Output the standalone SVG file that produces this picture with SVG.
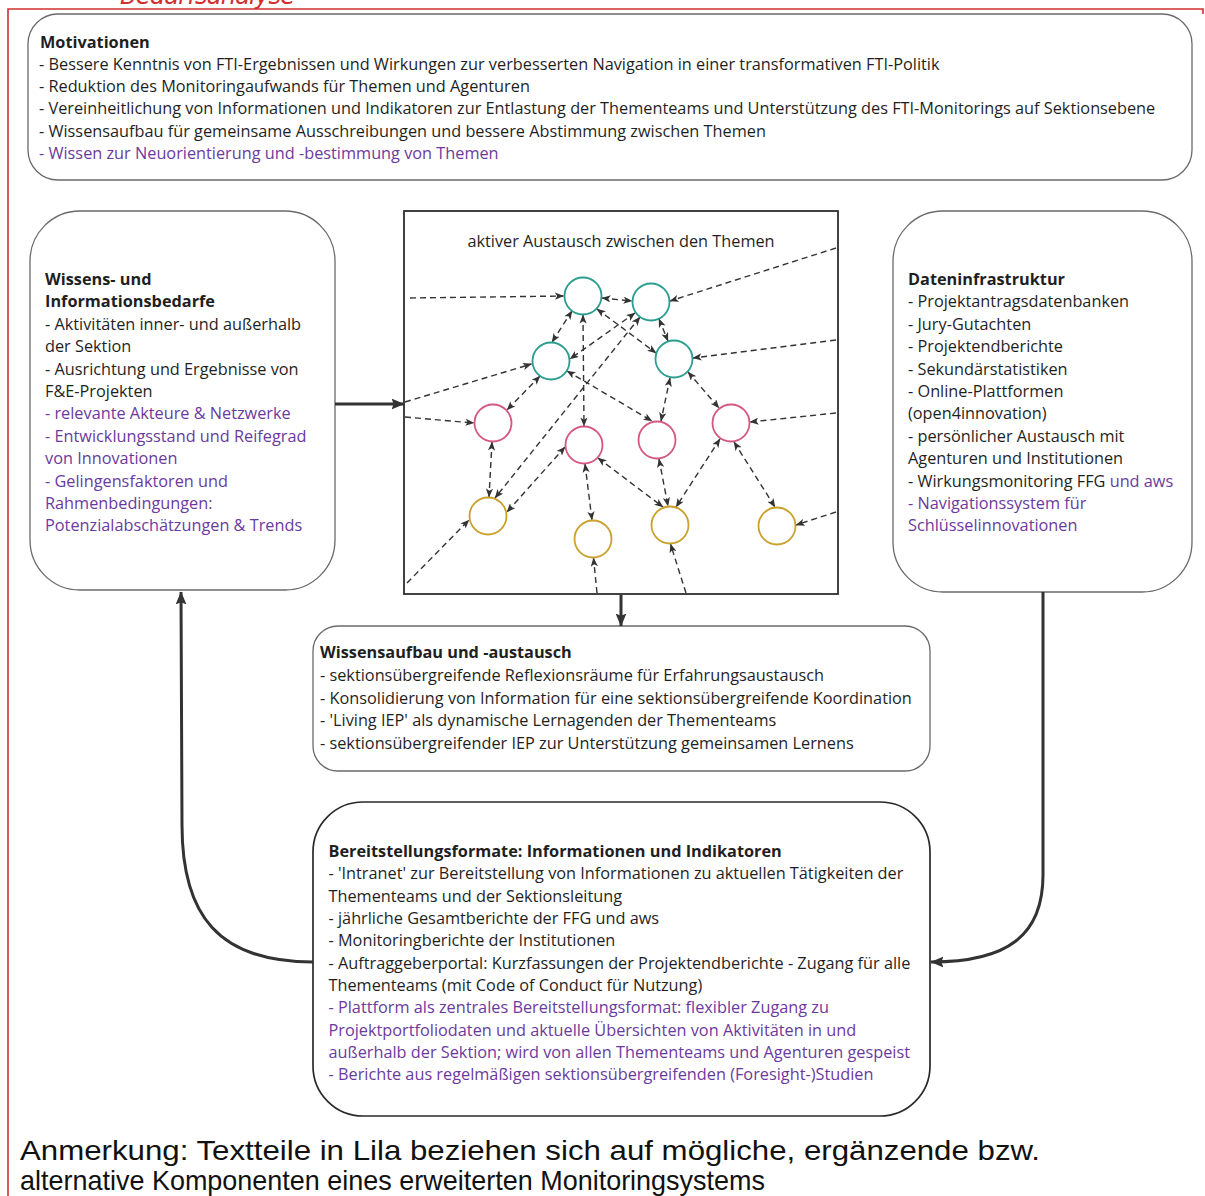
<svg xmlns="http://www.w3.org/2000/svg" width="1205" height="1196" viewBox="0 0 1205 1196">
<defs>
<style>
.t{font-family:"Open Sans","DejaVu Sans",sans-serif;font-size:16.3px;fill:#1f1f1f}
.b{font-weight:bold}
.p{fill:#6b3a9e}
.box{fill:#fff;stroke:#6a6a6a;stroke-width:1.3}
.dk{stroke:#2a2a2a;stroke-width:1.7}
.d{fill:none;stroke:#333;stroke-width:1.4;stroke-dasharray:6 4}
.bi{marker-start:url(#ah);marker-end:url(#ah)}
.one{marker-end:url(#ah)}
.thick{fill:none;stroke:#333;stroke-width:3;marker-end:url(#big)}
.teal{fill:#fff;stroke:#2a9d8f;stroke-width:1.8}
.pink{fill:#fff;stroke:#d4587f;stroke-width:1.8}
.gold{fill:#fff;stroke:#caa12a;stroke-width:1.8}
.note{font-family:"Liberation Sans",Arial,sans-serif;font-size:28px;fill:#111}
</style>
<marker id="ah" viewBox="0 0 10 8" refX="9.5" refY="4" markerWidth="9" markerHeight="7.2" markerUnits="userSpaceOnUse" orient="auto-start-reverse">
<path d="M0,0 L10,4 L0,8 L2.5,4 z" fill="#333"/>
</marker>
<marker id="big" viewBox="0 0 12 10" refX="11.5" refY="5" markerWidth="13" markerHeight="11" markerUnits="userSpaceOnUse" orient="auto">
<path d="M0,0 L12,5 L0,10 L2,5 z" fill="#333"/>
</marker>
</defs>
<rect x="0" y="0" width="1205" height="1196" fill="#fff"/>

<g id="frame">
<text x="120" y="4" font-family="DejaVu Sans,sans-serif" font-style="italic" font-size="24" fill="#d22f2f" textLength="175">Bedarfsanalyse</text>
<path d="M8,1196 L8,9 L1203,9 L1203,14" fill="none" stroke="#d22f2f" stroke-width="1.6"/>
</g>

<g id="motivationen">
<rect class="box" x="28" y="14" width="1164" height="166" rx="30" ry="30"/>
<text class="t b" x="40" y="47.5">Motivationen</text>
<text class="t" x="39" y="69.5">- Bessere Kenntnis von FTI-Ergebnissen und Wirkungen zur verbesserten Navigation in einer transformativen FTI-Politik</text>
<text class="t" x="39" y="92">- Reduktion des Monitoringaufwands für Themen und Agenturen</text>
<text class="t" x="39" y="114.3">- Vereinheitlichung von Informationen und Indikatoren zur Entlastung der Thementeams und Unterstützung des FTI-Monitorings auf Sektionsebene</text>
<text class="t" x="39" y="136.7">- Wissensaufbau für gemeinsame Ausschreibungen und bessere Abstimmung zwischen Themen</text>
<text class="t p" x="39" y="159">- Wissen zur Neuorientierung und -bestimmung von Themen</text>
</g>

<g id="bedarfe">
<rect class="box" x="30" y="211" width="305" height="379" rx="50" ry="50"/>
<text class="t b" x="45" y="285">Wissens- und</text>
<text class="t b" x="45" y="307.4">Informationsbedarfe</text>
<text class="t" x="45" y="329.8">- Aktivitäten inner- und außerhalb</text>
<text class="t" x="45" y="352.2">der Sektion</text>
<text class="t" x="45" y="374.6">- Ausrichtung und Ergebnisse von</text>
<text class="t" x="45" y="397">F&amp;E-Projekten</text>
<text class="t p" x="45" y="419.4">- relevante Akteure &amp; Netzwerke</text>
<text class="t p" x="45" y="441.8">- Entwicklungsstand und Reifegrad</text>
<text class="t p" x="45" y="464.2">von Innovationen</text>
<text class="t p" x="45" y="486.6">- Gelingensfaktoren und</text>
<text class="t p" x="45" y="509">Rahmenbedingungen:</text>
<text class="t p" x="45" y="531.4">Potenzialabschätzungen &amp; Trends</text>
</g>

<g id="daten">
<rect class="box" x="893" y="211" width="299" height="381" rx="50" ry="50"/>
<text class="t b" x="908" y="285">Dateninfrastruktur</text>
<text class="t" x="908" y="307.4">- Projektantragsdatenbanken</text>
<text class="t" x="908" y="329.8">- Jury-Gutachten</text>
<text class="t" x="908" y="352.2">- Projektendberichte</text>
<text class="t" x="908" y="374.6">- Sekundärstatistiken</text>
<text class="t" x="908" y="397">- Online-Plattformen</text>
<text class="t" x="908" y="419.4">(open4innovation)</text>
<text class="t" x="908" y="441.8">- persönlicher Austausch mit</text>
<text class="t" x="908" y="464.2">Agenturen und Institutionen</text>
<text class="t" x="908" y="486.6">- Wirkungsmonitoring FFG <tspan class="p">und aws</tspan></text>
<text class="t p" x="908" y="509">- Navigationssystem für</text>
<text class="t p" x="908" y="531.4">Schlüsselinnovationen</text>
</g>

<g id="austausch">
<rect x="404" y="211" width="434" height="383" fill="#fff" stroke="#2e2e2e" stroke-width="1.8"/>
<text class="t" x="621" y="246.5" text-anchor="middle" font-size="15">aktiver Austausch zwischen den Themen</text>
</g>

<g id="network-connectors">
<line class="d one" x1="410" y1="298" x2="563.5" y2="296"/>
<line class="d one" x1="405" y1="402" x2="531.5" y2="364"/>
<line class="d one" x1="405" y1="417" x2="474" y2="423"/>
<line class="d one" x1="407" y1="583" x2="469" y2="520"/>
<line class="d one" x1="836" y1="248" x2="670" y2="301"/>
<line class="d one" x1="836" y1="340" x2="693" y2="358"/>
<line class="d one" x1="836" y1="413" x2="750" y2="422"/>
<line class="d one" x1="836" y1="512" x2="796" y2="525"/>
<line class="d one" x1="597" y1="593" x2="593.5" y2="558"/>
<line class="d one" x1="686" y1="593" x2="670.5" y2="544"/>
<line class="d bi" x1="602" y1="298" x2="632" y2="301"/>
<line class="d bi" x1="572" y1="311" x2="552" y2="342"/>
<line class="d bi" x1="583" y1="315" x2="584" y2="426"/>
<line class="d bi" x1="597" y1="309" x2="656" y2="353"/>
<line class="d bi" x1="659" y1="319" x2="668" y2="341"/>
<line class="d bi" x1="635" y1="313" x2="570" y2="359"/>
<line class="d bi" x1="640" y1="317" x2="495" y2="498"/>
<line class="d bi" x1="540" y1="376" x2="507" y2="410"/>
<line class="d bi" x1="567" y1="371" x2="652" y2="421"/>
<line class="d bi" x1="670" y1="378" x2="661" y2="421"/>
<line class="d bi" x1="688" y1="372" x2="719" y2="408"/>
<line class="d bi" x1="492" y1="442" x2="489" y2="497"/>
<line class="d bi" x1="565" y1="447" x2="507" y2="512"/>
<line class="d bi" x1="585" y1="464" x2="592" y2="520"/>
<line class="d bi" x1="598" y1="458" x2="663" y2="507"/>
<line class="d bi" x1="659" y1="459" x2="668" y2="506"/>
<line class="d bi" x1="720" y1="439" x2="676" y2="507"/>
<line class="d bi" x1="734" y1="442" x2="775" y2="507"/>
</g>

<g id="themen">
<circle id="t1" class="teal" cx="583" cy="296" r="18.5"/>
<circle id="t2" class="teal" cx="651" cy="302" r="18.5"/>
<circle id="t3" class="teal" cx="551" cy="361" r="18.5"/>
<circle id="t4" class="teal" cx="674" cy="359" r="18.5"/>
<circle id="p1" class="pink" cx="493" cy="423" r="18.5"/>
<circle id="p2" class="pink" cx="584" cy="445" r="18.5"/>
<circle id="p3" class="pink" cx="657" cy="440" r="18.5"/>
<circle id="p4" class="pink" cx="731" cy="423" r="18.5"/>
<circle id="y1" class="gold" cx="488" cy="516" r="18.5"/>
<circle id="y2" class="gold" cx="593" cy="539" r="18.5"/>
<circle id="y3" class="gold" cx="670" cy="525" r="18.5"/>
<circle id="y4" class="gold" cx="777" cy="526" r="18.5"/>
</g>

<g id="wissensaufbau">
<rect class="box" x="313" y="626" width="617" height="145" rx="25" ry="25"/>
<text class="t b" x="320" y="658.3">Wissensaufbau und -austausch</text>
<text class="t" x="320" y="681">- sektionsübergreifende Reflexionsräume für Erfahrungsaustausch</text>
<text class="t" x="320" y="703.5">- Konsolidierung von Information für eine sektionsübergreifende Koordination</text>
<text class="t" x="320" y="726">- 'Living IEP' als dynamische Lernagenden der Thementeams</text>
<text class="t" x="320" y="748.5">- sektionsübergreifender IEP zur Unterstützung gemeinsamen Lernens</text>
</g>

<g id="bereitstellung">
<rect class="box dk" x="313" y="802" width="617" height="314" rx="50" ry="50"/>
<text class="t b" x="328.5" y="857">Bereitstellungsformate: Informationen und Indikatoren</text>
<text class="t" x="328.5" y="879.3">- 'Intranet' zur Bereitstellung von Informationen zu aktuellen Tätigkeiten der</text>
<text class="t" x="328.5" y="901.6">Thementeams und der Sektionsleitung</text>
<text class="t" x="328.5" y="924">- jährliche Gesamtberichte der FFG und aws</text>
<text class="t" x="328.5" y="946.3">- Monitoringberichte der Institutionen</text>
<text class="t" x="328.5" y="968.6">- Auftraggeberportal: Kurzfassungen der Projektendberichte - Zugang für alle</text>
<text class="t" x="328.5" y="991">Thementeams (mit Code of Conduct für Nutzung)</text>
<text class="t p" x="328.5" y="1013.3">- Plattform als zentrales Bereitstellungsformat: flexibler Zugang zu</text>
<text class="t p" x="328.5" y="1035.6">Projektportfoliodaten und aktuelle Übersichten von Aktivitäten in und</text>
<text class="t p" x="328.5" y="1058">außerhalb der Sektion; wird von allen Thementeams und Agenturen gespeist</text>
<text class="t p" x="328.5" y="1080.3">- Berichte aus regelmäßigen sektionsübergreifenden (Foresight-)Studien</text>
</g>

<g id="connectors">
<line class="thick" x1="335" y1="404" x2="404" y2="404"/>
<line class="thick" x1="621" y1="595" x2="621" y2="626"/>
<path class="thick" d="M1043,592 L1043,875 C1043,935 1008,962 931,962"/>
<path class="thick" d="M313,962 C218,962 182,915 182,825 L181,592"/>
</g>

<g id="anmerkung">
<text class="note" x="20" y="1160" textLength="1020" lengthAdjust="spacingAndGlyphs">Anmerkung: Textteile in Lila beziehen sich auf mögliche, ergänzende bzw.</text>
<text class="note" x="20" y="1190" textLength="745" lengthAdjust="spacingAndGlyphs">alternative Komponenten eines erweiterten Monitoringsystems</text>
</g>
</svg>
